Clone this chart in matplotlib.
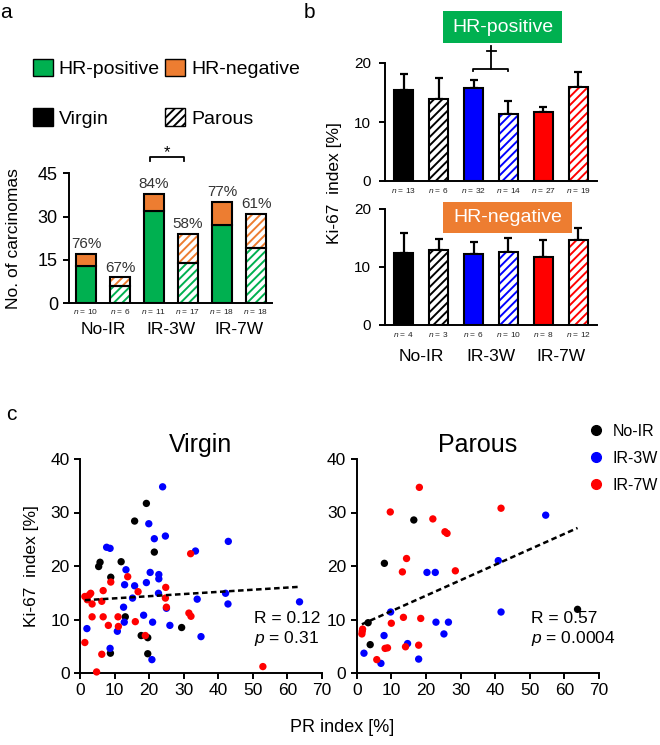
import matplotlib
matplotlib.use('Agg')
import matplotlib.pyplot as plt
from matplotlib.patches import Patch, Rectangle
from matplotlib.lines import Line2D
import numpy as np

plt.rcParams['font.family'] = ['Liberation Sans', 'DejaVu Sans']
plt.rcParams['mathtext.fontset'] = 'custom'
plt.rcParams['mathtext.it'] = 'Liberation Sans:italic'
plt.rcParams['mathtext.rm'] = 'Liberation Sans'
plt.rcParams['hatch.linewidth'] = 1.4
plt.rcParams['lines.scale_dashes'] = False

# ---------------- data ----------------
groups = ['No-IR', 'IR-3W', 'IR-7W']

# panel a: number of carcinomas (virgin, parous per group)
a_total = [17, 9, 38, 24, 35, 31]
a_hr_pos = [13, 6, 32, 14, 27, 19]
a_pct = ['76%', '67%', '84%', '58%', '77%', '61%']
a_n = [10, 6, 11, 17, 18, 18]
a_yticks = [0, 15, 30, 45]

# panel b: Ki-67 index mean and SE
b_pos_mean = [15.5, 13.9, 15.8, 11.4, 11.7, 16.0]
b_pos_err = [2.6, 3.6, 1.4, 2.1, 0.8, 2.4]
b_pos_n = [13, 6, 32, 14, 27, 19]
b_neg_mean = [12.4, 13.0, 12.2, 12.5, 11.7, 14.7]
b_neg_err = [3.5, 1.8, 2.1, 2.5, 3.0, 2.1]
b_neg_n = [4, 3, 6, 10, 8, 12]
b_yticks = [0, 10, 20]

# panel c: PR index vs Ki-67 index
virgin_noir_x = [19.2, 15.8, 21.5, 5.8, 5.4, 11.9, 8.9, 13.1, 17.7, 19.6, 8.8, 19.6, 29.4]
virgin_noir_y = [31.7, 28.4, 22.6, 20.7, 19.9, 20.8, 17.9, 10.5, 7.0, 6.6, 3.7, 3.6, 8.5]
virgin_ir3w_x = [23.9, 19.9, 21.5, 24.7, 7.7, 8.7, 33.4, 42.9, 13.3, 20.3, 19.2, 22.8, 22.8, 12.9, 15.8, 22.7,
                 15.2, 12.6, 25.0, 33.9, 42.1, 42.8, 63.5, 2.0, 12.8, 10.8, 18.4, 21.0, 26.0, 35.0, 8.7, 20.8]
virgin_ir3w_y = [34.8, 27.9, 25.1, 25.6, 23.5, 23.3, 22.8, 24.6, 19.3, 18.8, 16.9, 18.4, 17.6, 16.5, 16.3, 14.9,
                 14.0, 12.3, 12.1, 13.8, 14.9, 12.9, 13.3, 8.3, 9.5, 7.8, 10.8, 9.5, 8.9, 6.8, 4.6, 2.5]
virgin_ir7w_x = [32.0, 13.8, 8.9, 16.8, 24.8, 24.7, 25.0, 6.7, 1.4, 2.7, 3.1, 2.1, 3.5, 6.3, 3.5, 6.7,
                 8.2, 11.1, 11.0, 16.0, 31.5, 32.1, 1.4, 6.3, 4.8, 18.9, 52.9]
virgin_ir7w_y = [22.3, 18.0, 17.0, 15.2, 16.0, 14.0, 12.3, 15.4, 14.3, 14.6, 14.9, 13.7, 12.9, 13.4, 10.5, 10.5,
                 8.9, 8.7, 10.5, 9.6, 11.2, 10.6, 5.7, 3.5, 0.2, 7.0, 1.2]
parous_noir_x = [16.5, 8.0, 3.3, 3.9, 63.8]
parous_noir_y = [28.6, 20.5, 9.4, 5.3, 11.9]
parous_ir3w_x = [54.6, 40.9, 20.3, 22.7, 9.8, 41.7, 22.9, 26.5, 25.2, 7.9, 14.7, 2.1, 7.0, 17.9]
parous_ir3w_y = [29.5, 21.0, 18.8, 18.8, 11.4, 11.4, 9.5, 9.5, 7.3, 7.0, 5.5, 3.7, 1.8, 2.6]
parous_ir7w_x = [18.1, 9.7, 41.7, 22.0, 25.5, 26.1, 14.4, 13.2, 28.5, 13.5, 18.5, 10.0, 1.7, 1.5, 1.6,
                 8.2, 8.9, 14.1, 17.9, 5.8]
parous_ir7w_y = [34.7, 30.1, 30.8, 28.8, 26.4, 26.1, 21.4, 18.9, 19.1, 10.4, 10.2, 9.3, 8.2, 7.3, 7.8,
                 4.6, 4.7, 4.9, 5.2, 2.5]
virgin_fit = (0.0403, 13.55)   # slope, intercept
parous_fit = (0.289, 8.67)
virgin_stats = ('0.12', '0.31')
parous_stats = ('0.57', '0.0004')
c_xticks = [0, 10, 20, 30, 40, 50, 60, 70]
c_yticks = [0, 10, 20, 30, 40]

GREEN = '#00B050'
ORANGE = '#ED7D31'
BLUE = '#0000FF'
RED = '#FF0000'
b_colors = ['black', 'black', BLUE, BLUE, RED, RED]
parous_flag = [False, True, False, True, False, True]

W, H = 660, 745
fig = plt.figure(figsize=(W / 100, H / 100), dpi=100)


def rect(l, t, r, b):
    return [l / W, 1 - b / H, (r - l) / W, (b - t) / H]


def style_axes(ax, lw=1.4):
    for s in ['top', 'right']:
        ax.spines[s].set_visible(False)
    for s in ['left', 'bottom']:
        ax.spines[s].set_linewidth(lw)


def draw_bar(ax, x, h, bottom, color, hatched, width):
    if hatched:
        ax.bar(x, h, width, bottom=bottom, color='white', edgecolor=color, hatch='////',
               linewidth=0, zorder=2)
        ax.bar(x, h, width, bottom=bottom, fill=False, edgecolor='black', linewidth=1.5, zorder=3)
    else:
        ax.bar(x, h, width, bottom=bottom, color=color, edgecolor='black', linewidth=1.5, zorder=2)


# ---------------- panel a ----------------
axa = fig.add_axes(rect(69, 173.3, 272, 303.3))
style_axes(axa)
xa = np.arange(len(a_total))
for i in xa:
    hrneg = a_total[i] - a_hr_pos[i]
    draw_bar(axa, i, a_hr_pos[i], 0, GREEN, parous_flag[i], 0.58)
    draw_bar(axa, i, hrneg, a_hr_pos[i], ORANGE, parous_flag[i], 0.58)
    axa.annotate(a_pct[i], (i, a_total[i]), xytext=(0, 2), textcoords='offset points',
                 ha='center', va='bottom', fontsize=11, color='#333333')
    axa.annotate(r'$n$ = %d' % a_n[i], (i, 0), xytext=(0, -6), textcoords='offset points',
                 ha='center', va='center', fontsize=6, color='#222222', annotation_clip=False)
axa.set_xlim(-0.5, 5.47)
axa.set_ylim(0, 45)
axa.set_yticks(a_yticks)
axa.set_xticks([])
axa.tick_params(axis='y', labelsize=13, width=1.4, length=4, direction='out', pad=4)
axa.set_ylabel('No. of carcinomas', fontsize=12.5, labelpad=12)
for g, name in enumerate(groups):
    axa.annotate(name, (2 * g + 0.5, 0), xytext=(0, -19), textcoords='offset points',
                 ha='center', va='center', fontsize=12.5, annotation_clip=False)
# significance bracket
axa.plot([1.88, 1.88, 2.88, 2.88], [49.2, 50.6, 50.6, 49.2], color='black', lw=1.3, clip_on=False)
axa.text(2.38, 52.0, '*', ha='center', va='center', fontsize=12)

legend_handles = [Patch(facecolor=GREEN, edgecolor='black', label='HR-positive'),
                  Patch(facecolor='black', edgecolor='black', label='Virgin'),
                  Patch(facecolor=ORANGE, edgecolor='black', label='HR-negative'),
                  Patch(facecolor='white', edgecolor='black', hatch='////', label='Parous')]
fig.legend(handles=legend_handles, loc='upper left', bbox_to_anchor=(33 / W, 1 - 59 / H),
           ncol=2, frameon=False, fontsize=14, handlelength=1.03, handleheight=1.0,
           handletextpad=0.28, columnspacing=0.3, labelspacing=1.55, borderpad=0, borderaxespad=0)

# ---------------- panel b ----------------
xb = np.arange(6)
for (t, btm), mean, err, ns in [((63, 181), b_pos_mean, b_pos_err, b_pos_n),
                                ((209, 325), b_neg_mean, b_neg_err, b_neg_n)]:
    ax = fig.add_axes(rect(385, t, 597, btm))
    style_axes(ax)
    ax.errorbar(xb, mean, yerr=[np.zeros(6), err], fmt='none', ecolor='black',
                elinewidth=1.6, capsize=3, capthick=1.6, zorder=1)
    for i in xb:
        draw_bar(ax, i, mean[i], 0, b_colors[i], parous_flag[i], 0.52)
        ax.annotate(r'$n$ = %d' % ns[i], (i, 0), xytext=(0, -6.5), textcoords='offset points',
                    ha='center', va='center', fontsize=6, color='#222222', annotation_clip=False)
    ax.set_xlim(-0.53, 5.53)
    ax.set_ylim(0, 20)
    ax.set_yticks(b_yticks)
    ax.set_xticks([])
    ax.tick_params(axis='y', labelsize=11, width=1.4, length=4, direction='out', pad=6)
    if t == 63:
        ax.plot([1.99, 1.99, 2.99, 2.99], [18.6, 19.0, 19.0, 18.6], color='black', lw=1.3, clip_on=False)
        ax.plot([2.5, 2.5], [19.0, 22.9], color='black', lw=1.3, clip_on=False)
        ax.plot([2.38, 2.64], [22.05, 22.05], color='black', lw=1.3, clip_on=False)
    else:
        for g, name in enumerate(groups):
            ax.annotate(name, (2 * g + 0.5, 0), xytext=(0, -23), textcoords='offset points',
                        ha='center', va='center', fontsize=12.5, annotation_clip=False)

fig.text(335 / W, 1 - 183 / H, 'Ki-67  index [%]', rotation=90, ha='center', va='center', fontsize=12.5)

# ---------------- panel c ----------------
sets = [
    ((80, 459, 322, 673), 'Virgin',
     [(virgin_noir_x, virgin_noir_y, 'black'), (virgin_ir3w_x, virgin_ir3w_y, BLUE),
      (virgin_ir7w_x, virgin_ir7w_y, RED)], virgin_fit, virgin_stats),
    ((356.7, 459, 599, 673), 'Parous',
     [(parous_noir_x, parous_noir_y, 'black'), (parous_ir3w_x, parous_ir3w_y, BLUE),
      (parous_ir7w_x, parous_ir7w_y, RED)], parous_fit, parous_stats),
]
for k, (r, title, series, fit, stats) in enumerate(sets):
    ax = fig.add_axes(rect(*r))
    style_axes(ax)
    allx = []
    for xs, ys, col in series:
        ax.scatter(xs, ys, s=28, color=col, edgecolors='none', zorder=3, clip_on=False)
        allx += xs
    xl = np.array([min(allx), max(allx)])
    ax.plot(xl, fit[0] * xl + fit[1], color='black', lw=1.8, dashes=(4, 2.5), zorder=4)
    ax.set_xlim(0, 70)
    ax.set_ylim(0, 40)
    ax.set_xticks(c_xticks)
    ax.set_yticks(c_yticks)
    ax.tick_params(labelsize=12.5, width=1.4, length=4, direction='out')
    ax.set_title(title, fontsize=18, pad=5)
    ax.text(0.72, 0.255, 'R = %s' % stats[0], transform=ax.transAxes, fontsize=12.5, ha='left', va='center')
    ax.text(0.72, 0.16, r'$p$ = %s' % stats[1], transform=ax.transAxes, fontsize=12.5, ha='left', va='center')
    if k == 0:
        ax.set_ylabel('Ki-67  index [%]', fontsize=12.5, labelpad=8)

fig.text(342 / W, 1 - 728 / H, 'PR index [%]', ha='center', va='center', fontsize=13)

c_handles = [Line2D([], [], marker='o', ls='none', color='black', markersize=7, label='No-IR'),
             Line2D([], [], marker='o', ls='none', color=BLUE, markersize=7, label='IR-3W'),
             Line2D([], [], marker='o', ls='none', color=RED, markersize=7, label='IR-7W')]
fig.legend(handles=c_handles, loc='upper left', bbox_to_anchor=(588 / W, 1 - 424 / H), frameon=False,
           fontsize=11.5, handlelength=1.0, handletextpad=0.55, labelspacing=0.75, borderpad=0, borderaxespad=0)

# ---------------- overlay: label boxes and panel letters ----------------
ov = fig.add_axes([0, 0, 1, 1])
ov.set_xlim(0, W)
ov.set_ylim(H, 0)
ov.axis('off')
ov.add_patch(Rectangle((443, 11), 119, 32, facecolor=GREEN, edgecolor='none'))
ov.text(502.5, 27, 'HR-positive', color='white', ha='center', va='center', fontsize=14)
ov.add_patch(Rectangle((443, 202), 129, 31, facecolor=ORANGE, edgecolor='none'))
ov.text(507.5, 217.5, 'HR-negative', color='white', ha='center', va='center', fontsize=14)
ov.text(6, 12, 'a', ha='center', va='center', fontsize=15)
ov.text(309, 12, 'b', ha='center', va='center', fontsize=15)
ov.text(11, 414, 'c', ha='center', va='center', fontsize=15)

fig.savefig('out.png', dpi=100)
